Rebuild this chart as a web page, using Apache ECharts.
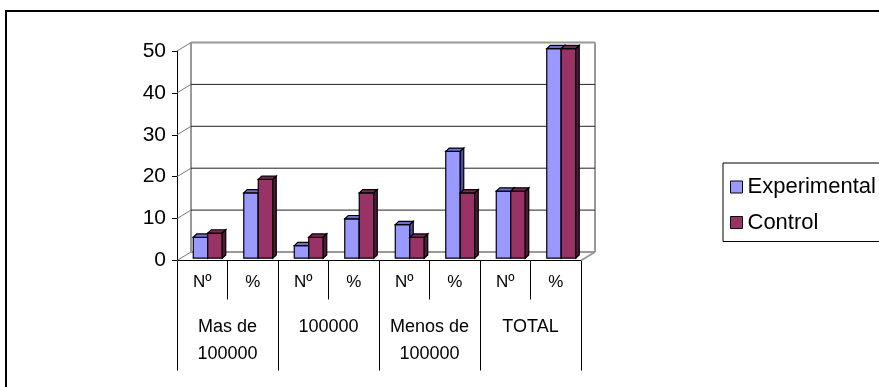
<!DOCTYPE html>
<html>
<head>
<meta charset="utf-8">
<script src="https://cdn.jsdelivr.net/npm/echarts@6/dist/echarts.min.js"></script>
<style>html,body{margin:0;padding:0;background:#fff}#c{width:879px;height:387px}</style>
</head>
<body>
<div id="c"></div>
<script>
// ---- data ----
const categories = ['Nº', '%', 'Nº', '%', 'Nº', '%', 'Nº', '%'];
const groups = ['Mas de\n100000', '100000', 'Menos de\n100000', 'TOTAL'];
const experimental = [5, 15.6, 3, 9.4, 8, 25.5, 16, 50];
const control = [6, 18.8, 5, 15.6, 5, 15.6, 16, 50];
const yTicks = [0, 10, 20, 30, 40, 50];
const seriesNames = ['Experimental', 'Control'];

// ---- style ----
const FONT = '"Liberation Sans", Arial, sans-serif';
const DX = 14, DY = -8.5;           // depth of the back wall
const BDX = 3.5, BDY = -3.3;        // depth of each bar
const faces = [
  { front: '#9999FF', top: '#6F6FCF', side: '#4D4D99' },
  { front: '#993366', top: '#7A2952', side: '#4F1A35' }
];

function barRenderer(k) {
  return function (params, api) {
    const i = api.value(0), v = api.value(1);
    const top = api.coord([i, v]);
    const base = api.coord([i, 0]);
    const band = api.size([1, 0])[0];
    const bw = band * 0.287;
    const pc = base[0] + band * 0.109;
    const x0 = k === 0 ? pc - bw : pc;
    const x1 = x0 + bw;
    const yb = base[1] - 2.3, yt = top[1] - 2.3;
    const st = { stroke: '#000', lineWidth: 1.2 };
    const f = faces[k];
    return {
      type: 'group',
      children: [
        { type: 'polygon', shape: { points: [[x0, yb], [x1, yb], [x1, yt], [x0, yt]] }, style: Object.assign({ fill: f.front }, st) },
        { type: 'polygon', shape: { points: [[x0, yt], [x1, yt], [x1 + BDX, yt + BDY], [x0 + BDX, yt + BDY]] }, style: Object.assign({ fill: f.top }, st) },
        { type: 'polygon', shape: { points: [[x1, yt], [x1 + BDX, yt + BDY], [x1 + BDX, yb + BDY], [x1, yb]] }, style: Object.assign({ fill: f.side }, st) }
      ]
    };
  };
}

function frameRenderer(params, api) {
  const y = api.value(1);
  const band = api.size([1, 0])[0];
  const p = api.coord([0, y]);
  const xl = p[0] - band / 2;
  const xr = api.coord([categories.length - 1, y])[0] + band / 2;
  const fy = p[1];
  const y0 = api.coord([0, yTicks[0]])[1];
  const yTop = api.coord([0, yTicks[yTicks.length - 1]])[1];
  const wall = { stroke: '#999', lineWidth: 2, fill: null };
  const grid = { stroke: '#222', lineWidth: 1, fill: null };
  const children = [
    { type: 'line', shape: { x1: xl, y1: fy, x2: xl + DX, y2: fy + DY }, style: { stroke: '#777', lineWidth: 1 } }
  ];
  if (y === yTicks[0]) {
    children.push({ type: 'line', shape: { x1: xl + DX, y1: fy + DY, x2: xr + DX, y2: fy + DY }, style: wall });
    children.push({ type: 'line', shape: { x1: xr, y1: fy, x2: xr + DX, y2: fy + DY }, style: wall });
    children.push({ type: 'line', shape: { x1: xl + DX, y1: y0 + DY, x2: xl + DX, y2: yTop + DY }, style: wall });
    children.push({ type: 'line', shape: { x1: xr + DX, y1: y0 + DY, x2: xr + DX, y2: yTop + DY }, style: wall });
  } else if (y === yTicks[yTicks.length - 1]) {
    children.push({ type: 'line', shape: { x1: xl + DX, y1: fy + DY, x2: xr + DX, y2: fy + DY }, style: wall });
  } else {
    children.push({ type: 'line', shape: { x1: xl + DX, y1: fy + DY, x2: xr + DX, y2: fy + DY }, style: grid });
  }
  return { type: 'group', children: children };
}

const chart = echarts.init(document.getElementById('c'), null, { renderer: 'canvas' });
chart.setOption({
  animation: false,
  backgroundColor: '#fff',
  textStyle: { fontFamily: FONT },
  grid: { left: 177, right: 298, top: 51, bottom: 126.5 },
  graphic: [
    { type: 'rect', shape: { x: 6, y: 11, width: 900, height: 400 }, style: { fill: null, stroke: '#000', lineWidth: 2 }, z: 0 }
  ],
  legend: {
    orient: 'vertical',
    left: 723, top: 163,
    padding: [13, 12, 8, 7],
    itemGap: 13.5,
    itemWidth: 12, itemHeight: 12,
    borderColor: '#000', borderWidth: 1,
    icon: 'rect',
    textStyle: { fontSize: 22, color: '#000', fontFamily: FONT, padding: [0, 0, 0, 0] },
    data: seriesNames.map((n, k) => ({ name: n, itemStyle: { color: faces[k].front, borderColor: '#000', borderWidth: 1 } }))
  },
  xAxis: [
    {
      type: 'category', data: categories, position: 'bottom',
      axisLine: { lineStyle: { color: '#000', width: 1 } },
      axisTick: { show: true, length: 39, lineStyle: { color: '#000' } },
      axisLabel: { interval: 0, fontSize: 17, color: '#000', margin: 13, fontFamily: FONT }
    },
    {
      type: 'category', data: groups, position: 'bottom',
      axisLine: { show: false },
      axisTick: { show: true, interval: 0, length: 110, lineStyle: { color: '#000' } },
      axisLabel: { interval: 0, hideOverlap: false, fontSize: 18, color: '#000', margin: 53, lineHeight: 27, fontFamily: FONT }
    }
  ],
  yAxis: {
    type: 'value', min: 0, max: 50, interval: 10,
    axisLine: { show: true, lineStyle: { color: '#000', width: 1 } },
    axisTick: { show: true, length: 5, lineStyle: { color: '#000' } },
    splitLine: { show: false },
    axisLabel: { fontSize: 21, color: '#000', margin: 11, fontFamily: FONT }
  },
  series: [
    {
      type: 'custom', name: 'frame', renderItem: frameRenderer, z: 1, silent: true,
      data: yTicks.map(t => [0, t])
    },
    {
      type: 'custom', name: seriesNames[0], renderItem: barRenderer(0), z: 2,
      itemStyle: { color: faces[0].front },
      data: experimental.map((v, i) => [i, v])
    },
    {
      type: 'custom', name: seriesNames[1], renderItem: barRenderer(1), z: 2,
      itemStyle: { color: faces[1].front },
      data: control.map((v, i) => [i, v])
    }
  ]
});
</script>
</body>
</html>
